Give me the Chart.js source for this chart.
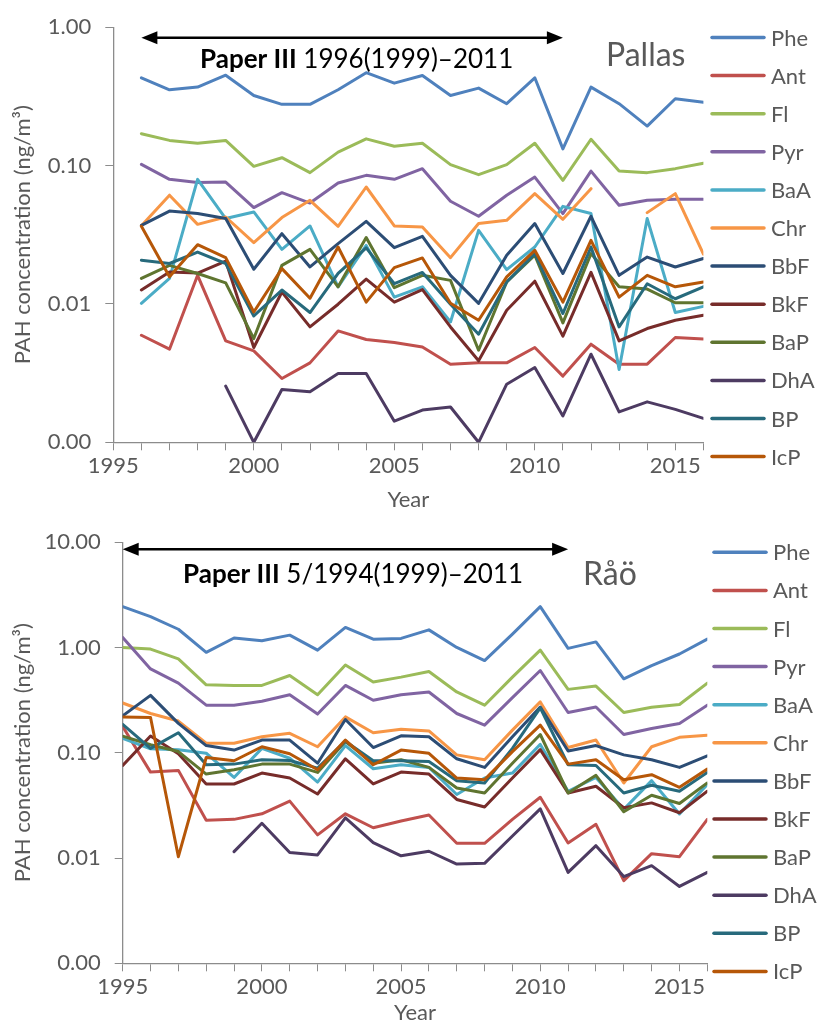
<!DOCTYPE html>
<html>
<head>
<meta charset="utf-8">
<script src="https://cdn.jsdelivr.net/npm/chart.js@4.4.1/dist/chart.umd.min.js"></script>
<style>
  body { margin: 0; background: #fff; }
  canvas { display: block; }
</style>
</head>
<body>
<canvas id="pallasChart" width="818" height="515"></canvas>
<canvas id="raoChart" width="818" height="511"></canvas>
<script>
const compounds = ["Phe", "Ant", "Fl", "Pyr", "BaA", "Chr", "BbF", "BkF", "BaP", "DhA", "BP", "IcP"];
const colors = ["#4F81BD", "#C0504D", "#9BBB59", "#8064A2", "#4BACC6", "#F79646",
                "#2C4D75", "#772C2A", "#5F7530", "#4D3B62", "#276A7C", "#B65708"];
const yTickValues = [0.001, 0.01, 0.1, 1, 10];
const xLabelYears = [1995, 2000, 2005, 2010, 2015];

// Pallas, 1996-2016
const pallasYears = [1996, 1997, 1998, 1999, 2000, 2001, 2002, 2003, 2004, 2005, 2006,
                     2007, 2008, 2009, 2010, 2011, 2012, 2013, 2014, 2015, 2016];
const pallasPhe = [0.431, 0.353, 0.369, 0.450, 0.321, 0.277, 0.277, 0.353, 0.469, 0.394, 0.448, 0.321, 0.363, 0.280, 0.431, 0.132, 0.369, 0.280, 0.193, 0.304, 0.287];
const pallasAnt = [0.00594, 0.00471, 0.0161, 0.00541, 0.00458, 0.00289, 0.00375, 0.00638, 0.00553, 0.00526, 0.00489, 0.00367, 0.00375, 0.00375, 0.00484, 0.00301, 0.00512, 0.00367, 0.00367, 0.00572, 0.00559];
const pallasFl = [0.170, 0.152, 0.145, 0.152, 0.0987, 0.114, 0.0889, 0.125, 0.156, 0.138, 0.145, 0.1015, 0.0860, 0.1015, 0.145, 0.0782, 0.155, 0.0912, 0.0889, 0.095, 0.104];
const pallasPyr = [0.102, 0.0795, 0.0753, 0.076, 0.0497, 0.0637, 0.0536, 0.0748, 0.085, 0.0795, 0.095, 0.0552, 0.0430, 0.0610, 0.0826, 0.045, 0.0912, 0.0516, 0.0561, 0.057, 0.057];
const pallasBaA = [0.0101, 0.0153, 0.0795, 0.0414, 0.0462, 0.0248, 0.0366, 0.0133, 0.0265, 0.0112, 0.0133, 0.00741, 0.034, 0.0177, 0.0258, 0.0507, 0.045, 0.00336, 0.0414, 0.00867, 0.0096];
const pallasChr = [0.0367, 0.0611, 0.0376, 0.0425, 0.0277, 0.0421, 0.0561, 0.0364, 0.070, 0.0366, 0.036, 0.0216, 0.0381, 0.0402, 0.0627, 0.0409, 0.0681, null, 0.0457, 0.0627, 0.0229];
const pallasBbF = [0.037, 0.0469, 0.045, 0.0414, 0.0178, 0.0322, 0.0185, 0.0273, 0.0395, 0.0255, 0.0308, 0.0161, 0.0101, 0.0225, 0.0381, 0.0166, 0.043, 0.0161, 0.0218, 0.0185, 0.0213];
const pallasBkF = [0.0126, 0.0170, 0.0167, 0.0204, 0.00484, 0.0122, 0.00682, 0.00995, 0.0151, 0.0103, 0.0127, 0.00682, 0.00388, 0.00901, 0.0146, 0.00585, 0.0169, 0.00541, 0.00664, 0.00762, 0.00828];
const pallasBaP = [0.0153, 0.0190, 0.0166, 0.0142, 0.00562, 0.0190, 0.0248, 0.0133, 0.0302, 0.0131, 0.0161, 0.0148, 0.00463, 0.0144, 0.0225, 0.00729, 0.0231, 0.0133, 0.0128, 0.0102, 0.0102];
const pallasDhA = [null, null, null, 0.00255, 0.001, 0.00241, 0.00232, 0.00314, 0.00314, 0.00142, 0.00171, 0.0018, 0.001, 0.00263, 0.00347, 0.00155, 0.00433, 0.00166, 0.00196, 0.00173, 0.00149];
const pallasBP = [0.0207, 0.0196, 0.0237, 0.0196, 0.00819, 0.0126, 0.00867, 0.0166, 0.0254, 0.0140, 0.0169, 0.00995, 0.00604, 0.0144, 0.0231, 0.00853, 0.0258, 0.00682, 0.0140, 0.0109, 0.0133];
const pallasIcP = [0.0364, 0.0157, 0.0268, 0.0216, 0.00875, 0.018, 0.0110, 0.0258, 0.0103, 0.0183, 0.0215, 0.0101, 0.00762, 0.0157, 0.0244, 0.0103, 0.0288, 0.0112, 0.0161, 0.0133, 0.0144];

// Råö, 1995-2016
const raoYears = [1995, 1996, 1997, 1998, 1999, 2000, 2001, 2002, 2003, 2004, 2005, 2006,
                  2007, 2008, 2009, 2010, 2011, 2012, 2013, 2014, 2015, 2016];
const raoPhe = [2.44, 1.96, 1.49, 0.899, 1.23, 1.16, 1.31, 0.944, 1.55, 1.20, 1.22, 1.47, 1.00, 0.751, 1.34, 2.44, 0.981, 1.13, 0.504, 0.673, 0.867, 1.20];
const raoAnt = [0.177, 0.0655, 0.068, 0.0228, 0.0233, 0.0263, 0.0347, 0.0166, 0.0263, 0.0194, 0.0225, 0.0256, 0.0138, 0.0138, 0.0233, 0.0378, 0.0139, 0.0209, 0.0061, 0.0110, 0.0103, 0.0233];
const raoFl = [1.00, 0.966, 0.778, 0.442, 0.436, 0.436, 0.542, 0.356, 0.682, 0.469, 0.523, 0.592, 0.378, 0.283, 0.523, 0.944, 0.400, 0.430, 0.241, 0.271, 0.287, 0.459];
const raoPyr = [1.245, 0.626, 0.459, 0.283, 0.283, 0.308, 0.356, 0.233, 0.436, 0.315, 0.356, 0.378, 0.236, 0.183, 0.334, 0.604, 0.241, 0.272, 0.149, 0.170, 0.190, 0.283];
const raoBaA = [0.137, 0.109, 0.107, 0.0989, 0.0583, 0.110, 0.0887, 0.0527, 0.117, 0.0705, 0.0769, 0.0726, 0.0401, 0.0575, 0.0641, 0.120, 0.0431, 0.0583, 0.029, 0.0543, 0.0262, 0.0498];
const raoChr = [0.297, 0.236, 0.200, 0.123, 0.123, 0.142, 0.153, 0.114, 0.219, 0.155, 0.167, 0.161, 0.0955, 0.0857, 0.164, 0.304, 0.112, 0.132, 0.0516, 0.114, 0.140, 0.147];
const raoBbF = [0.224, 0.351, 0.190, 0.117, 0.106, 0.132, 0.132, 0.0796, 0.207, 0.112, 0.145, 0.142, 0.0876, 0.0726, 0.142, 0.272, 0.104, 0.117, 0.0955, 0.0857, 0.0726, 0.0935];
const raoBkF = [0.0757, 0.144, 0.098, 0.0505, 0.0505, 0.0641, 0.0575, 0.0406, 0.0876, 0.0505, 0.0655, 0.0627, 0.036, 0.0305, 0.0575, 0.107, 0.0415, 0.048, 0.030, 0.0334, 0.0269, 0.0431];
const raoBaP = [0.144, 0.119, 0.1026, 0.0627, 0.0690, 0.078, 0.078, 0.0651, 0.128, 0.0796, 0.0857, 0.0726, 0.0463, 0.0415, 0.0796, 0.149, 0.0415, 0.061, 0.0275, 0.0395, 0.033, 0.0516];
const raoDhA = [null, null, null, null, 0.0115, 0.0214, 0.0113, 0.0107, 0.0241, 0.0140, 0.0105, 0.0116, 0.00877, 0.0089, 0.0162, 0.0293, 0.00731, 0.0131, 0.00667, 0.00846, 0.00537, 0.00731];
const raoBP = [0.186, 0.110, 0.155, 0.0769, 0.078, 0.0857, 0.0844, 0.0714, 0.129, 0.0839, 0.0839, 0.0826, 0.0543, 0.0516, 0.110, 0.267, 0.0769, 0.0757, 0.0415, 0.0491, 0.0431, 0.0651];
const raoIcP = [0.219, 0.216, 0.0103, 0.0901, 0.0839, 0.114, 0.0977, 0.0690, 0.132, 0.0769, 0.106, 0.0989, 0.0575, 0.0555, 0.1026, 0.183, 0.078, 0.0857, 0.0555, 0.0619, 0.0470, 0.0699];

const FONT = "Lato";
const GREY_TEXT = "#595959";
const GREY_AXIS = "#8c8c8c";

function makeDatasets(years, series) {
  return series.map((vals, i) => ({
    label: compounds[i],
    data: years.map((yr, j) => ({ x: yr, y: vals[j] })),
    borderColor: colors[i],
    backgroundColor: colors[i],
    borderWidth: 3,
    pointRadius: 0,
    pointHoverRadius: 0,
    tension: 0,
    fill: false,
    spanGaps: false,
    borderJoinStyle: "round",
    borderCapStyle: "round",
    order: series.length - 1 - i   // later series drawn on top, like Excel
  }));
}

// arrow, "Paper III" note, site name and the legend list
function decorPlugin(opts) {
  return {
    id: "decor",
    afterDraw(chart) {
      const ctx = chart.ctx;
      const xs = chart.scales.x;
      ctx.save();

      const x1 = xs.getPixelForValue(opts.arrowFrom);
      const x2 = xs.getPixelForValue(opts.arrowTo);
      const ay = opts.arrowY;
      ctx.strokeStyle = "#000";
      ctx.fillStyle = "#000";
      ctx.lineWidth = 2.5;
      ctx.beginPath();
      ctx.moveTo(x1 + 10, ay);
      ctx.lineTo(x2 - 10, ay);
      ctx.stroke();
      ctx.beginPath();
      ctx.moveTo(x1, ay);
      ctx.lineTo(x1 + 16, ay - 6.5);
      ctx.lineTo(x1 + 16, ay + 6.5);
      ctx.closePath();
      ctx.fill();
      ctx.beginPath();
      ctx.moveTo(x2, ay);
      ctx.lineTo(x2 - 16, ay - 6.5);
      ctx.lineTo(x2 - 16, ay + 6.5);
      ctx.closePath();
      ctx.fill();

      ctx.textBaseline = "alphabetic";
      ctx.textAlign = "left";
      ctx.font = "bold 26px " + FONT;
      ctx.fillText(opts.noteBold, opts.noteX, opts.noteY);
      const wBold = ctx.measureText(opts.noteBold).width;
      ctx.font = "26px " + FONT;
      ctx.fillText(" " + opts.noteText, opts.noteX + wBold, opts.noteY);

      ctx.fillStyle = GREY_TEXT;
      ctx.font = "32px " + FONT;
      ctx.fillText(opts.site, opts.siteX, opts.siteY);

      ctx.font = "22px " + FONT;
      ctx.textBaseline = "middle";
      ctx.lineCap = "round";
      ctx.lineWidth = 3.5;
      chart.data.datasets.forEach((ds, i) => {
        const y = opts.legendTop + i * 38.1;
        ctx.strokeStyle = ds.borderColor;
        ctx.beginPath();
        ctx.moveTo(opts.legendX, y);
        ctx.lineTo(opts.legendX + 52, y);
        ctx.stroke();
        ctx.fillStyle = GREY_TEXT;
        ctx.fillText(ds.label, opts.legendX + 59, y + 1);
      });
      ctx.restore();
    }
  };
}

function buildChart(id, p) {
  const axisGrid = { display: true, drawOnChartArea: false, drawTicks: true, tickLength: 8, color: GREY_AXIS, lineWidth: 1 };
  const axisBorder = { display: true, color: GREY_AXIS, width: 1.3 };
  return new Chart(document.getElementById(id), {
    type: "line",
    data: { datasets: makeDatasets(p.years, p.series) },
    options: {
      responsive: false,
      animation: false,
      devicePixelRatio: 1,
      layout: { padding: { left: 0, right: p.padRight, top: p.padTop, bottom: 0 } },
      plugins: { legend: { display: false }, tooltip: { enabled: false } },
      scales: {
        x: {
          type: "linear",
          min: 1995,
          max: 2016,
          ticks: {
            stepSize: 1,
            autoSkip: false,
            maxRotation: 0,
            color: GREY_TEXT,
            font: { family: FONT, size: 22 },
            padding: 2,
            callback: (v) => xLabelYears.includes(Math.round(v)) ? String(Math.round(v)) : ""
          },
          grid: axisGrid,
          border: axisBorder,
          title: { display: true, text: "Year", color: GREY_TEXT, font: { family: FONT, size: 22 }, padding: { top: 0, bottom: p.yearPad } },
          afterFit: (s) => { s.height = p.xAxisH; }
        },
        y: {
          type: "logarithmic",
          min: 0.001,
          max: p.yMax,
          afterBuildTicks: (s) => { s.ticks = yTickValues.filter(v => v <= p.yMax).map(v => ({ value: v })); },
          ticks: {
            color: GREY_TEXT,
            font: { family: FONT, size: 22 },
            padding: 14,
            callback: (v) => Number(v).toFixed(2)
          },
          grid: axisGrid,
          border: axisBorder,
          title: { display: true, text: "PAH concentration (ng/m³)", color: GREY_TEXT, font: { family: FONT, size: 22 }, padding: { top: 10, bottom: 0 } },
          afterFit: (s) => { s.width = p.yAxisW; }
        }
      }
    },
    plugins: [decorPlugin(p.decor)]
  });
}

buildChart("pallasChart", {
  years: pallasYears,
  series: [pallasPhe, pallasAnt, pallasFl, pallasPyr, pallasBaA, pallasChr, pallasBbF, pallasBkF, pallasBaP, pallasDhA, pallasBP, pallasIcP],
  yMax: 1,
  padRight: 114.6,
  padTop: 26.7,
  yAxisW: 113.3,
  xAxisH: 72.7,
  yearPad: 2,
  decor: {
    arrowFrom: 1996, arrowTo: 2011, arrowY: 37.7,
    noteBold: "Paper III", noteText: "1996(1999)–2011", noteX: 200, noteY: 68,
    site: "Pallas", siteX: 606, siteY: 66,
    legendX: 712, legendTop: 37.5
  }
});

buildChart("raoChart", {
  years: raoYears,
  series: [raoPhe, raoAnt, raoFl, raoPyr, raoBaA, raoChr, raoBbF, raoBkF, raoBaP, raoDhA, raoBP, raoIcP],
  yMax: 10,
  padRight: 110.7,
  padTop: 24,
  yAxisW: 122.7,
  xAxisH: 62.7,
  yearPad: 0,
  decor: {
    arrowFrom: 1995, arrowTo: 2011, arrowY: 34.3,
    noteBold: "Paper III", noteText: "5/1994(1999)–2011", noteX: 183, noteY: 68,
    site: "Råö", siteX: 583, siteY: 70,
    legendX: 714, legendTop: 37.3
  }
});
</script>
</body>
</html>
